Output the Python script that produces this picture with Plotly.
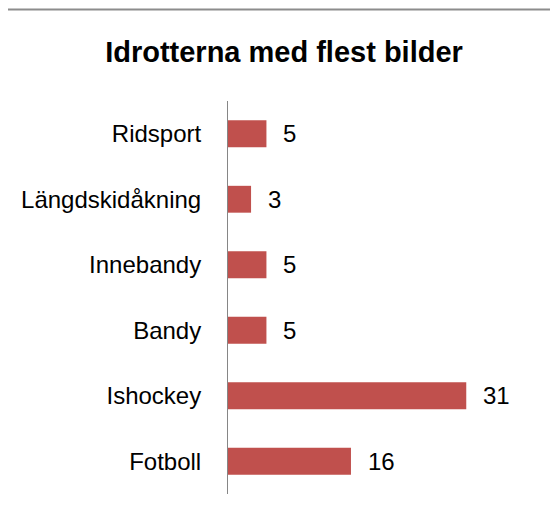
import plotly.graph_objects as go

# data (bottom to top as drawn)
sports = ["Fotboll", "Ishockey", "Bandy", "Innebandy", "Längdskidåkning", "Ridsport"]
pictures = [16, 31, 5, 5, 3, 5]

# page body has an 8px margin, so the figure is laid out 8px smaller
OFF = 8
W, H = 558 - OFF, 517 - OFF
L, R, T, B = 228 - OFF, 61, 101 - OFF, 23
pw, ph = W - L - R, H - T - B


def px_x(v):
    return (v - OFF - L) / pw


def px_y(v):
    return (H - B - (v - OFF)) / ph


fig = go.Figure()
fig.add_trace(go.Bar(
    y=sports, x=pictures, orientation="h",
    marker=dict(color="#C0504D", line=dict(width=0)),
    width=0.41,
    hoverinfo="x+y",
))

# value labels
for s, v in zip(sports, pictures):
    fig.add_annotation(x=v, y=s, text=str(v), showarrow=False,
                       xanchor="left", xshift=15,
                       font=dict(family="Liberation Sans", size=24, color="#000000"))

# top edge of the chart frame
fig.add_shape(type="line", xref="paper", yref="paper",
              x0=px_x(8), x1=px_x(558), y0=px_y(9.5), y1=px_y(9.5),
              line=dict(color="#8c8c8c", width=2))

fig.update_layout(
    width=W, height=H,
    margin=dict(l=L, r=R, t=T, b=B, autoexpand=False),
    paper_bgcolor="white", plot_bgcolor="white",
    showlegend=False,
    title=dict(text="<b>Idrotterna med flest bilder</b>",
               x=(284 - OFF) / W, xanchor="center", y=1 - (52 - OFF) / H, yanchor="middle",
               font=dict(family="Liberation Sans", size=29, color="#000000")),
    font=dict(family="Liberation Sans", size=24, color="#000000"),
)
fig.update_xaxes(range=[0, 35], visible=False, fixedrange=True)
fig.update_yaxes(
    range=[-0.5, 5.5], showline=True, linecolor="#868686", linewidth=1,
    showgrid=False, zeroline=False, ticks="", ticklabelstandoff=21,
    tickfont=dict(family="Liberation Sans", size=24, color="#000000"),
    fixedrange=True,
)

fig.write_html("out.html")
